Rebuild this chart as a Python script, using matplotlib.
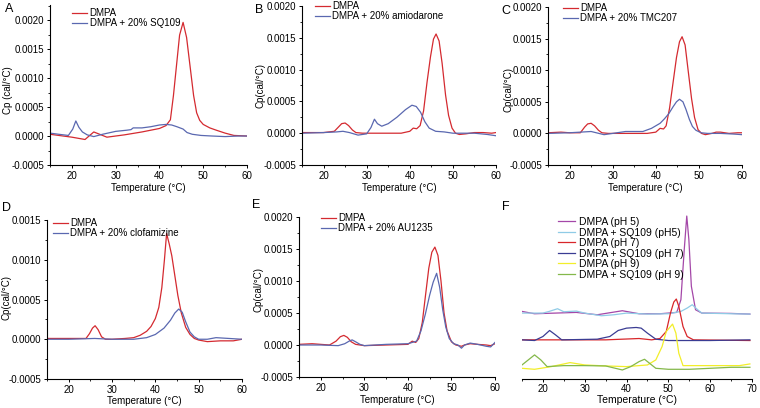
import matplotlib
matplotlib.use("Agg")
import matplotlib.pyplot as plt
from matplotlib.ticker import MultipleLocator, FuncFormatter

plt.rcParams['font.family'] = ['Liberation Sans', 'DejaVu Sans']

W, H = 760, 408

# ---------------- data ----------------
# Panel A
A_T_dmpa = [15, 17, 20, 23, 25, 28, 32, 36, 40, 41.5, 42.5, 43.2, 43.9, 44.6, 45.4, 46.2, 47, 47.8, 48.5, 49.2, 50, 51.5, 53, 55, 57, 60]
A_cp_dmpa = [0.00003, 0.00001, -0.00002, -0.00006, 0.00007, -0.00002, 0.00002, 0.00007, 0.00013, 0.00018, 0.00028, 0.0007, 0.00122, 0.00174, 0.00196, 0.0017, 0.0012, 0.0007, 0.0004, 0.00027, 0.0002, 0.00014, 0.0001, 0.00005, 0.00001, 0.0]
A_T_drug = [15, 17, 19.2, 20.2, 20.9, 21.6, 22.4, 23.5, 25, 27, 30, 32.5, 33.5, 34, 36, 38, 40, 41.5, 42.8, 44, 45.4, 46.3, 47.5, 49.5, 52, 55, 58, 60]
A_cp_drug = [0.00005, 0.00003, 0.00001, 0.00012, 0.00026, 0.00015, 0.00007, 0.00002, -0.00001, 0.00003, 0.00008, 0.0001, 0.00011, 0.00014, 0.00014, 0.00016, 0.00019, 0.0002, 0.00019, 0.00016, 0.00012, 0.00006, 0.00003, 0.00001, 0.0, -0.00001, 0.0, 0.0]

# Panel B
B_T_dmpa = [15, 20, 22.5, 23.5, 24.2, 25, 25.8, 26.7, 27.5, 29, 33, 38, 40, 40.8, 41.6, 42.4, 43.2, 44, 44.8, 45.5, 46.1, 46.8, 47.5, 48.3, 49, 49.8, 50.6, 51.5, 53, 55, 57, 59, 60]
B_cp_dmpa = [0.00001, 0.00001, 0.00003, 0.0001, 0.00015, 0.00016, 0.00012, 0.00005, 0.00001, 0.0, 0.0, 0.0, 0.00003, 0.00008, 0.00007, 0.00012, 0.00035, 0.0008, 0.0012, 0.00148, 0.00156, 0.00145, 0.0011, 0.0006, 0.00028, 0.00008, 0.0, -0.00002, -0.00001, 0.00001, 0.00001, 0.0, 0.00001]
B_T_drug = [15, 20, 23, 24.5, 26, 28, 30, 31, 31.8, 32.5, 33.5, 35, 37, 39, 40.5, 41.5, 42.5, 43.5, 44.5, 46, 48, 50, 55, 58, 60]
B_cp_drug = [0.0, 0.00001, 0.00002, 0.00003, 0.00001, -0.00003, -0.00001, 0.00009, 0.00022, 0.00015, 0.00011, 0.00015, 0.00025, 0.00037, 0.00044, 0.00042, 0.00033, 0.00018, 0.00008, 0.00003, 0.00002, 0.0, 0.0, -0.00002, -0.00004]

# Panel C
C_T_dmpa = [15, 18, 20, 22.5, 23.5, 24.2, 25, 25.8, 26.7, 27.5, 29, 33, 38, 40, 41, 41.8, 42.4, 43.2, 44, 44.8, 45.5, 46.1, 46.8, 47.5, 48.3, 49, 49.8, 50.6, 51.5, 53, 54, 55, 57, 59, 60]
C_cp_dmpa = [0.00001, 0.00002, 0.00001, 0.00001, 0.0001, 0.00015, 0.00016, 0.00012, 0.00005, 0.00001, 0.0, 0.0, 0.0, 0.00002, 0.00008, 0.00007, 0.00012, 0.0004, 0.0008, 0.0012, 0.00145, 0.00153, 0.0014, 0.001, 0.00055, 0.00025, 0.00006, 0.0, -0.00002, 0.0, 0.00002, 0.00002, 0.0, 0.00001, 0.00001]
C_T_drug = [15, 20, 25, 28, 30, 33, 37, 39, 41, 42, 43, 44, 44.8, 45.5, 46.3, 47, 47.8, 48.5, 49.3, 50.5, 52, 55, 58, 60]
C_cp_drug = [0.0, 0.00001, 0.00003, -0.00002, 0.0, 0.00003, 0.00003, 0.00008, 0.00016, 0.00023, 0.00031, 0.00042, 0.0005, 0.00054, 0.0005, 0.00038, 0.00022, 0.00011, 0.00005, 0.00001, 0.0, 0.0, -0.00001, -0.00002]

# Panel D
D_T_dmpa = [15, 20, 24, 24.8, 25.5, 26.1, 26.8, 27.6, 28.5, 30, 33, 35, 36.5, 38, 39, 40, 40.8, 41.5, 42.1, 42.6, 43.2, 43.8, 44.5, 45.2, 46, 47, 48, 49, 50, 52, 55, 58, 60]
D_cp_dmpa = [0.00001, 0.00001, 0.00001, 0.00007, 0.00014, 0.00017, 0.00012, 0.00003, 0.0, 0.0, 0.00001, 0.00002, 0.00005, 0.0001, 0.00016, 0.00026, 0.0004, 0.00065, 0.001, 0.00133, 0.0012, 0.00105, 0.0008, 0.00055, 0.00033, 0.00015, 0.00006, 0.00001, -0.00001, -0.00003, -0.00002, -0.00002, 0.0]
D_T_drug = [15, 20, 26, 30, 35, 38, 40, 42, 43.5, 44.5, 45.4, 46.2, 47, 48, 49, 50, 52, 54, 57, 60]
D_cp_drug = [0.0, 0.0, 0.00001, 0.0, 0.0, 0.00002, 0.00006, 0.00014, 0.00024, 0.00033, 0.00038, 0.00034, 0.00022, 0.00009, 0.00003, 0.0, 0.0, 0.00002, 0.00001, 0.0]

# Panel E
E_T_dmpa = [15, 18, 20, 22, 23.5, 24.5, 25.3, 26.1, 27, 28, 30, 35, 40, 41, 41.8, 42.5, 43.3, 44, 44.8, 45.5, 46.2, 46.9, 47.6, 48.3, 49, 50, 51, 52.3, 53, 54.3, 56, 58, 59, 60]
E_cp_dmpa = [0.00001, 0.00002, 0.00001, 0.0, 0.00006, 0.00013, 0.00015, 0.00012, 0.00005, 0.00001, -0.00001, 0.0, 0.00001, 0.00006, 0.00004, 0.0001, 0.00035, 0.00075, 0.0012, 0.00145, 0.00153, 0.0014, 0.001, 0.0005, 0.00022, 0.00005, 0.0, -0.00002, 0.0, 0.00002, 0.00001, 0.0, -0.00001, 0.00002]
E_T_drug = [15, 20, 24, 25.5, 26.5, 27.2, 28, 29, 30, 35, 40, 42, 43, 44, 45, 45.8, 46.6, 47.3, 48, 48.7, 49.5, 50.5, 51.5, 52.3, 53, 54.3, 56, 58, 59, 60]
E_cp_drug = [0.0, 0.0, -0.00001, 0.00002, 0.00006, 0.00008, 0.00005, 0.00001, -0.00001, 0.00001, 0.00002, 0.00006, 0.00022, 0.00048, 0.00078, 0.00098, 0.00112, 0.0009, 0.00055, 0.00028, 0.0001, 0.00002, 0.0, -0.00005, 0.0, 0.00003, 0.00001, -0.00002, -0.00003, 0.00004]

# Panel F (stacked curves, arbitrary units)
F_T_ph5 = [15, 18, 23, 28, 33, 39, 43, 48, 52, 53, 53.8, 54.4, 54.9, 55.5, 56.5, 58, 65, 69.5]
F_v_ph5 = [2.02, 1.95, 1.97, 1.99, 1.92, 2.04, 1.95, 1.95, 1.99, 2.37, 3.87, 4.87, 4.17, 2.77, 2.07, 1.97, 1.96, 1.94]
F_T_ph5_sq = [15, 20, 21.5, 23.5, 25, 28, 30, 34, 37, 40, 45, 50, 53, 54.5, 55.7, 57, 58, 65, 69.5]
F_v_ph5_sq = [1.97, 1.97, 2.02, 2.10, 2.01, 2.03, 1.97, 1.89, 1.92, 1.97, 1.94, 1.95, 2.02, 2.12, 2.22, 2.07, 1.97, 1.95, 1.94]
F_T_ph7 = [15, 35, 43, 46, 48, 49.5, 50.5, 51.3, 51.9, 52.5, 53.5, 54.5, 56, 69.5]
F_v_ph7 = [1.17, 1.17, 1.21, 1.17, 1.21, 1.42, 1.97, 2.30, 2.39, 2.17, 1.57, 1.27, 1.17, 1.15]
F_T_ph7_sq = [15, 18, 20, 21.6, 23, 24.5, 33, 36, 38, 40, 42.3, 43.5, 45, 47, 50, 60, 69.5]
F_v_ph7_sq = [1.17, 1.15, 1.27, 1.45, 1.32, 1.17, 1.19, 1.27, 1.45, 1.52, 1.54, 1.52, 1.37, 1.19, 1.15, 1.15, 1.17]
F_T_ph9 = [15, 18, 22, 26.5, 30, 35, 40, 45, 47, 48.5, 49.5, 51, 51.8, 52.5, 53.5, 60, 67, 69.5]
F_v_ph9 = [0.32, 0.29, 0.37, 0.49, 0.42, 0.39, 0.37, 0.42, 0.57, 0.97, 1.42, 1.64, 1.37, 0.77, 0.40, 0.40, 0.40, 0.45]
F_T_ph9_sq = [15, 16, 18, 19.5, 21, 25, 30, 35, 39, 41, 43, 44.3, 45.5, 47, 50, 55, 60, 65, 69.5]
F_v_ph9_sq = [0.42, 0.52, 0.72, 0.57, 0.37, 0.40, 0.40, 0.39, 0.27, 0.37, 0.52, 0.59, 0.47, 0.32, 0.29, 0.29, 0.32, 0.35, 0.35]

drug_labels = ["DMPA + 20% SQ109", "DMPA + 20% amiodarone", "DMPA + 20% TMC207",
               "DMPA + 20% clofamizine", "DMPA + 20% AU1235"]
F_labels = ["DMPA (pH 5)", "DMPA + SQ109 (pH5)", "DMPA (pH 7)",
            "DMPA + SQ109 (pH 7)", "DMPA (pH 9)", "DMPA + SQ109 (pH 9)"]

RED = "#d42a30"
BLUE = "#5a68b0"
F_colors = ["#a447a8", "#8fcbe6", "#d8262a", "#3a3c93", "#f2ee2a", "#84b84a"]

fig = plt.figure(figsize=(W / 100, H / 100), dpi=100)


def add_ax(l, r, t, b):
    return fig.add_axes([l / W, 1 - b / H, (r - l) / W, (b - t) / H])


def style(ax, xmax=60, xmaj=10, pad=1.5):
    for s in ("top", "right"):
        ax.spines[s].set_visible(False)
    for s in ("left", "bottom"):
        ax.spines[s].set_linewidth(0.8)
    ax.xaxis.set_major_locator(MultipleLocator(xmaj))
    ax.xaxis.set_minor_locator(MultipleLocator(5))
    ax.tick_params(which="major", direction="out", length=2.5, width=0.7, labelsize=7, pad=pad)
    ax.tick_params(which="minor", direction="out", length=1.5, width=0.6)
    ax.set_xlim(15, xmax)


fmt = FuncFormatter(lambda v, p: ("%.4f" % v).replace("-0.0000", "0.0000"))

panels = [
    ("A", (50, 247, 5, 165), (-0.0005, 0.00226), A_T_dmpa, A_cp_dmpa, A_T_drug, A_cp_drug, "Cp (cal/\u00b0C)",
     (8, 90), 188, (72, 8)),
    ("B", (302, 496, 6, 165), (-0.0005, 0.0020), B_T_dmpa, B_cp_dmpa, B_T_drug, B_cp_drug, "Cp(cal/\u00b0C)",
     (260, 85), 188, (315, 1)),
    ("C", (548, 742, 7, 165), (-0.0005, 0.0020), C_T_dmpa, C_cp_dmpa, C_T_drug, C_cp_drug, "Cp(cal/\u00b0C)",
     (509, 90), 188, (563, 3)),
    ("D", (47, 242, 220, 379), (-0.0005, 0.0015), D_T_dmpa, D_cp_dmpa, D_T_drug, D_cp_drug, "Cp(cal/\u00b0C)",
     (7, 297), 401, (53, 218)),
    ("E", (299, 495, 217, 377), (-0.0005, 0.0020), E_T_dmpa, E_cp_dmpa, E_T_drug, E_cp_drug, "Cp(cal/\u00b0C)",
     (259, 290), 400, (321, 213)),
]

for i, (letter, box, ylim, T1, c1, T2, c2, ylab, ylpos, xly, legpos) in enumerate(panels):
    l, r, t, b = box
    ax = add_ax(l, r, t, b)
    style(ax)
    ax.set_ylim(*ylim)
    ax.yaxis.set_major_locator(MultipleLocator(0.0005))
    ax.yaxis.set_minor_locator(MultipleLocator(0.00025))
    ax.yaxis.set_major_formatter(fmt)
    ax.plot(T1, c1, color=RED, lw=0.9, label="DMPA")
    ax.plot(T2, c2, color=BLUE, lw=0.9, label=drug_labels[i])
    ax.legend(loc="upper left", bbox_to_anchor=(legpos[0] / W, 1 - legpos[1] / H),
              bbox_transform=fig.transFigure, frameon=False, fontsize=7,
              handlelength=1.5, handletextpad=0.3, labelspacing=0.0,
              borderpad=0, borderaxespad=0)
    fig.text(ylpos[0] / W, 1 - ylpos[1] / H, ylab, rotation=90, ha="center", va="center", fontsize=7)
    fig.text((l + r) / 2 / W, 1 - xly / H, "Temperature (\u00b0C)", ha="center", va="center", fontsize=7)
    fig.text((l - 45 if letter in "AD" else l - 47) / W, 1 - (t + 4 if letter in "ABC" else t - 12) / H, letter,
             ha="left", va="center", fontsize=9)

# Panel F
axf = add_ax(522, 752, 205, 379)
style(axf, xmax=70, pad=1.0)
axf.spines["left"].set_visible(False)
axf.set_yticks([])
axf.set_ylim(0, 5.2)
F_series = [(F_T_ph5, F_v_ph5), (F_T_ph5_sq, F_v_ph5_sq), (F_T_ph7, F_v_ph7),
            (F_T_ph7_sq, F_v_ph7_sq), (F_T_ph9, F_v_ph9), (F_T_ph9_sq, F_v_ph9_sq)]
for (T, v), col, lab in zip(F_series, F_colors, F_labels):
    axf.plot(T, v, color=col, lw=0.9, label=lab)
axf.legend(loc="upper left", bbox_to_anchor=(558 / W, 1 - 217 / H),
           bbox_transform=fig.transFigure, frameon=False, fontsize=7.5,
           handlelength=1.6, handletextpad=0.4, labelspacing=0.05,
           borderpad=0, borderaxespad=0)
fig.text((522 + 752) / 2 / W, 1 - 400 / H, "Temperature (\u00b0C)", ha="center", va="center", fontsize=7.5)
fig.text(502 / W, 1 - 207 / H, "F", ha="left", va="center", fontsize=9)

fig.savefig("out.png", dpi=100)
